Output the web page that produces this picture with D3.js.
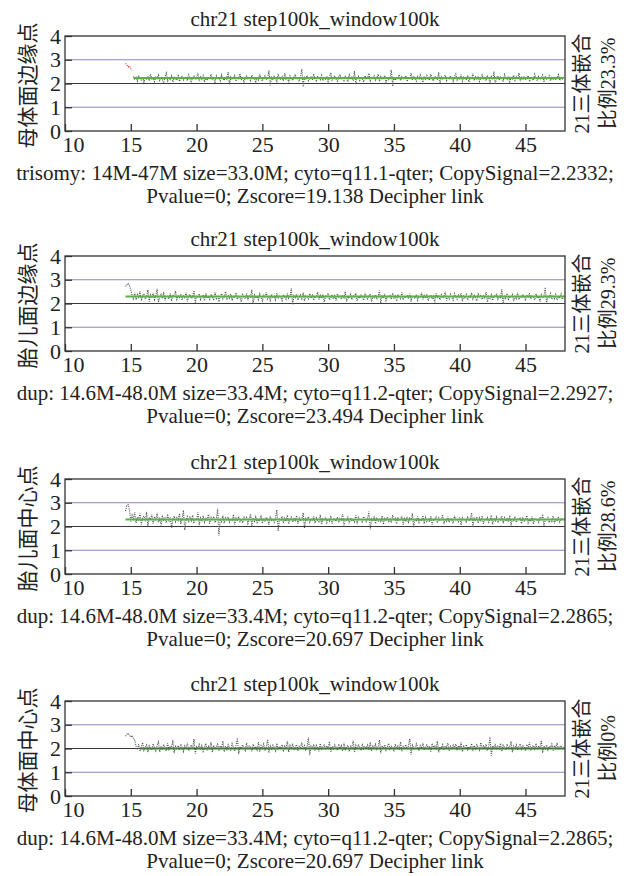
<!DOCTYPE html>
<html>
<head>
<meta charset="utf-8">
<script src="https://cdn.jsdelivr.net/npm/d3@7"></script>
<style>
  body { margin: 0; background: #fff; }
  text { font-family: "Liberation Serif", "Times New Roman", Times, "DejaVu Serif", serif; fill: #222; }
  .cjk { font-family: "Liberation Serif", "Times New Roman", "Noto Sans CJK SC", serif; }
</style>
</head>
<body>
<div id="wrapper"></div>
<script>
// chart values
const xTicks = [10, 15, 20, 25, 30, 35, 40, 45];
const yTicks = [0, 1, 2, 3, 4];
const refLines = [1, 2, 3];
const binStep = 0.1;

const titles = ["chr21 step100k_window100k", "chr21 step100k_window100k", "chr21 step100k_window100k", "chr21 step100k_window100k"];
const yLabels = ["母体面边缘点", "胎儿面边缘点", "胎儿面中心点", "母体面中心点"];
const rightLabel1 = ["21三体嵌合", "21三体嵌合", "21三体嵌合", "21三体嵌合"];
const rightLabel2 = ["比例23.3%", "比例29.3%", "比例28.6%", "比例0%"];
const captions1 = [
  "trisomy: 14M-47M size=33.0M; cyto=q11.1-qter; CopySignal=2.2332;",
  "dup: 14.6M-48.0M size=33.4M; cyto=q11.2-qter; CopySignal=2.2927;",
  "dup: 14.6M-48.0M size=33.4M; cyto=q11.2-qter; CopySignal=2.2865;",
  "dup: 14.6M-48.0M size=33.4M; cyto=q11.2-qter; CopySignal=2.2865;"
];
const captions2 = [
  "Pvalue=0; Zscore=19.138 Decipher link",
  "Pvalue=0; Zscore=23.494 Decipher link",
  "Pvalue=0; Zscore=20.697 Decipher link",
  "Pvalue=0; Zscore=20.697 Decipher link"
];

// segment calls: [start, end, level]
const segments = [[15.2, 47.9, 2.23], [14.6, 48.0, 2.29], [14.6, 48.0, 2.29], [15.7, 48.0, 2.0]];

// panel 1: red head from 14.6, grey bins from 15.2
const redStart = 14.6;
const redHead = [2.85, 2.78, 2.70, 2.74, 2.62, 2.55];
const dataStarts = [15.2, 14.6, 14.6, 14.6];

const copyP1 = [
  2.30,2.18,2.26,2.10,2.34,2.21,2.15,2.28,2.05,2.24,2.19,2.31,2.12,2.40,2.16,2.22,2.08,2.27,2.20,2.35,
  2.13,2.25,2.18,2.02,2.29,2.44,2.11,2.23,2.17,2.32,2.06,2.26,2.20,2.14,2.38,2.09,2.24,2.30,2.15,2.21,
  2.27,2.12,2.36,2.19,2.04,2.25,2.31,2.16,2.22,2.45,2.10,2.28,2.18,2.33,2.07,2.23,2.14,2.29,2.20,2.39,
  2.15,2.26,2.01,2.32,2.18,2.24,2.11,2.37,2.21,2.13,2.30,2.19,2.48,1.96,2.27,2.16,2.22,2.34,2.09,2.25,
  2.20,2.42,2.14,2.28,2.06,2.23,2.31,2.17,2.26,2.12,2.35,2.19,2.24,2.03,2.29,2.15,2.40,2.21,2.10,2.27,
  2.33,2.18,2.22,2.55,1.92,2.26,2.14,2.30,2.20,2.08,2.36,2.23,2.16,2.28,2.11,2.43,2.19,2.25,2.05,2.32,
  2.21,2.13,2.27,2.38,2.17,2.24,2.09,2.30,2.62,1.85,2.26,2.19,2.34,2.12,2.22,2.28,2.15,2.41,2.20,2.07,
  2.29,2.23,2.16,2.35,2.11,2.25,2.18,2.31,2.04,2.27,2.46,2.14,2.21,2.33,2.19,2.10,2.26,2.38,2.17,2.24,
  2.12,2.30,2.22,2.08,2.36,2.19,2.27,2.15,2.52,1.98,2.23,2.31,2.13,2.28,2.20,2.06,2.34,2.17,2.25,2.43,
  2.11,2.26,2.19,2.32,2.14,2.22,2.40,2.09,2.29,2.18,2.24,2.35,2.03,2.27,2.16,2.21,2.58,1.90,2.30,2.13,
  2.25,2.20,2.37,2.12,2.28,2.17,2.23,2.33,2.08,2.26,2.19,2.44,2.14,2.31,2.22,2.10,2.29,2.16,2.36,2.21,
  2.05,2.27,2.18,2.34,2.24,2.13,2.39,2.20,2.11,2.30,2.25,2.15,2.47,2.02,2.28,2.19,2.23,2.35,2.12,2.26,
  2.17,2.32,2.21,2.08,2.29,2.40,2.14,2.24,2.18,2.37,2.10,2.27,2.22,2.15,2.33,2.06,2.25,2.20,2.42,2.13,
  2.28,2.19,2.31,2.09,2.23,2.36,2.16,2.26,2.12,2.34,2.21,2.04,2.29,2.18,2.50,1.97,2.24,2.32,2.14,2.27,
  2.20,2.11,2.38,2.23,2.17,2.30,2.07,2.25,2.19,2.35,2.13,2.28,2.22,2.45,2.10,2.26,2.18,2.31,2.15,2.24,
  2.33,2.08,2.27,2.20,2.14,2.39,2.21,2.12,2.29,2.17,2.24,2.36,2.05,2.28,2.19,2.23,2.32,2.11,2.26,2.18,
  2.30,2.15,2.22,2.37,2.13,2.25,2.19,2.28
];
const copyP2 = [
  2.72,2.80,2.85,2.76,2.58,2.35,2.20,2.46,2.15,2.38,2.27,2.52,2.12,2.33,2.41,2.18,2.30,2.57,2.08,2.36,
  2.24,2.45,2.16,2.31,2.62,2.05,2.28,2.39,2.21,2.48,2.13,2.34,2.26,2.19,2.43,2.10,2.37,2.29,2.52,2.17,
  2.32,2.25,2.40,2.14,2.35,2.22,2.46,2.09,2.30,2.38,2.20,2.27,2.55,2.03,2.33,2.24,2.41,2.16,2.29,2.36,
  2.11,2.44,2.23,2.31,2.18,2.39,2.26,2.13,2.47,2.21,2.34,2.07,2.30,2.42,2.19,2.28,2.50,2.15,2.35,2.22,
  2.40,2.12,2.31,2.26,2.45,2.17,2.33,2.24,2.06,2.38,2.29,2.20,2.43,2.14,2.32,2.27,2.58,1.98,2.36,2.23,
  2.30,2.16,2.41,2.25,2.11,2.35,2.28,2.47,2.19,2.32,2.08,2.39,2.24,2.30,2.15,2.44,2.21,2.34,2.26,2.12,
  2.37,2.29,2.18,2.43,2.22,2.31,2.65,1.95,2.33,2.25,2.40,2.14,2.28,2.36,2.20,2.46,2.10,2.32,2.27,2.19,
  2.42,2.23,2.35,2.13,2.30,2.26,2.48,2.17,2.34,2.21,2.39,2.06,2.31,2.28,2.44,2.15,2.25,2.37,2.20,2.33,
  2.12,2.41,2.27,2.32,2.18,2.36,2.24,2.50,2.09,2.29,2.22,2.38,2.16,2.34,2.26,2.43,2.11,2.30,2.21,2.35,
  2.25,2.14,2.45,2.28,2.19,2.33,2.40,2.07,2.31,2.24,2.37,2.17,2.29,2.55,2.02,2.34,2.22,2.41,2.13,2.30,
  2.27,2.36,2.18,2.44,2.23,2.32,2.10,2.39,2.26,2.20,2.47,2.15,2.31,2.24,2.35,2.19,2.42,2.08,2.33,2.28,
  2.21,2.38,2.14,2.30,2.25,2.46,2.17,2.34,2.22,2.40,2.11,2.29,2.36,2.19,2.31,2.05,2.43,2.26,2.32,2.16,
  2.37,2.23,2.28,2.50,2.12,2.33,2.20,2.39,2.25,2.14,2.42,2.29,2.18,2.35,2.27,2.44,2.09,2.31,2.22,2.38,
  2.15,2.30,2.26,2.45,2.19,2.34,2.23,2.11,2.40,2.28,2.36,2.17,2.32,2.24,2.48,2.06,2.29,2.21,2.37,2.13,
  2.33,2.27,2.41,2.18,2.30,2.25,2.60,1.98,2.35,2.22,2.43,2.14,2.31,2.26,2.38,2.10,2.29,2.20,2.46,2.16,
  2.34,2.23,2.39,2.28,2.12,2.36,2.25,2.44,2.19,2.32,2.27,2.15,2.41,2.22,2.30,2.08,2.37,2.24,2.33,2.68,
  2.00,2.31,2.26,2.42,2.18,2.35,2.21,2.38,2.14,2.29,2.25,2.40,2.17,2.32
];
const copyP3 = [
  2.65,2.88,2.92,2.70,2.20,2.48,2.32,2.60,2.15,2.40,2.28,2.55,2.08,2.35,2.45,2.22,2.62,2.02,2.38,2.30,
  2.50,2.12,2.42,2.25,2.58,2.18,2.33,2.05,2.47,2.27,2.36,2.15,2.52,2.21,2.40,1.95,2.31,2.44,2.20,2.37,
  2.26,2.55,2.10,2.35,2.68,1.85,2.30,2.42,2.17,2.39,2.24,2.48,2.13,2.33,2.28,2.60,2.06,2.36,2.22,2.45,
  2.19,2.34,2.27,2.51,2.11,2.38,2.25,2.43,2.16,2.30,2.75,1.62,2.32,2.21,2.46,2.14,2.37,2.28,2.40,2.18,
  2.33,2.24,2.50,2.09,2.35,2.27,2.42,2.20,2.31,2.15,2.44,2.26,2.38,2.12,2.29,2.53,2.03,2.36,2.22,2.41,
  2.17,2.30,2.25,2.47,2.13,2.34,2.21,2.39,2.28,2.08,2.45,2.24,2.32,2.18,2.37,2.70,1.80,2.31,2.26,2.43,
  2.15,2.35,2.22,2.48,2.10,2.29,2.40,2.19,2.33,2.25,2.46,2.12,2.36,2.23,2.30,2.58,1.92,2.34,2.27,2.41,
  2.18,2.31,2.24,2.44,2.14,2.37,2.26,2.20,2.49,2.09,2.33,2.28,2.39,2.16,2.32,2.23,2.45,2.11,2.35,2.29,
  2.21,2.40,2.17,2.34,2.27,2.52,2.05,2.30,2.24,2.43,2.13,2.36,2.22,2.31,2.19,2.47,2.10,2.38,2.26,2.33,
  2.15,2.42,2.28,2.20,2.35,2.63,1.88,2.32,2.25,2.44,2.12,2.37,2.23,2.30,2.18,2.46,2.09,2.34,2.27,2.40,
  2.21,2.31,2.16,2.48,2.26,2.35,2.11,2.39,2.24,2.29,2.45,2.07,2.33,2.20,2.41,2.14,2.36,2.28,2.55,1.96,
  2.32,2.23,2.43,2.17,2.30,2.26,2.47,2.12,2.38,2.21,2.34,2.19,2.44,2.08,2.31,2.27,2.40,2.15,2.36,2.24,
  2.29,2.50,2.10,2.33,2.22,2.42,2.18,2.35,2.26,2.13,2.46,2.28,2.31,2.20,2.39,2.06,2.37,2.25,2.32,2.16,
  2.43,2.23,2.30,2.58,1.98,2.34,2.27,2.41,2.14,2.36,2.21,2.45,2.11,2.32,2.26,2.38,2.18,2.29,2.48,2.09,
  2.35,2.24,2.40,2.16,2.31,2.27,2.44,2.13,2.37,2.22,2.33,2.19,2.47,2.05,2.30,2.25,2.42,2.17,2.34,2.28,
  2.39,2.12,2.36,2.23,2.31,2.46,2.15,2.29,2.21,2.43,2.10,2.35,2.26,2.32,2.18,2.40,2.24,2.52,2.02,2.30,
  2.27,2.38,2.16,2.34,2.22,2.45,2.13,2.31,2.25,2.41,2.19,2.33,2.28,2.36
];
const copyP4 = [
  2.52,2.60,2.64,2.56,2.48,2.55,2.42,2.35,2.10,1.95,2.18,1.88,2.08,2.25,1.92,2.05,2.15,1.85,2.12,2.00,
  1.94,2.20,2.03,1.90,2.14,2.28,1.86,2.07,1.98,2.16,2.02,1.89,2.22,1.96,2.10,2.04,2.35,1.80,2.09,2.01,
  2.13,1.93,2.19,2.05,1.87,2.11,1.99,2.24,1.91,2.06,2.15,1.97,2.40,1.78,2.08,2.02,2.17,1.95,2.12,1.88,
  2.04,2.21,1.92,2.09,2.00,2.26,1.84,2.14,1.98,2.07,2.18,1.90,2.11,2.03,2.32,1.86,2.10,1.96,2.16,2.01,
  1.93,2.20,2.05,1.89,2.13,2.44,1.76,2.08,1.99,2.15,2.03,1.91,2.23,1.97,2.11,2.06,1.88,2.18,2.00,2.09,
  1.94,2.27,1.87,2.12,2.02,2.19,1.95,2.07,2.38,1.82,2.10,1.98,2.14,2.04,1.90,2.22,1.96,2.08,2.01,2.16,
  1.92,2.11,2.05,2.30,1.85,2.13,1.99,2.20,1.93,2.06,2.17,1.89,2.09,2.03,2.25,1.97,2.12,1.94,2.08,2.46,
  1.72,2.10,2.00,2.18,1.91,2.14,2.04,1.88,2.21,1.98,2.07,2.15,1.95,2.11,2.02,2.29,1.86,2.09,1.99,2.16,
  2.05,1.93,2.19,2.01,2.12,1.90,2.24,1.96,2.08,2.14,1.87,2.10,2.03,2.33,1.83,2.13,1.98,2.17,2.06,1.92,
  2.20,1.99,2.09,2.02,2.15,1.94,2.26,1.89,2.11,2.04,2.18,1.96,2.07,2.36,1.80,2.12,2.00,2.16,1.93,2.08,
  2.22,1.97,2.10,2.05,1.91,2.19,2.01,2.13,1.95,2.28,1.88,2.09,2.03,2.17,1.98,2.11,2.42,1.75,2.14,2.02,
  1.96,2.20,2.06,1.90,2.12,2.00,2.24,1.93,2.08,2.15,1.99,2.10,1.87,2.21,2.04,2.13,1.95,2.31,1.84,2.07,
  2.01,2.16,1.94,2.11,2.05,2.23,1.90,2.09,1.98,2.14,2.03,2.19,1.92,2.12,2.00,2.27,1.86,2.10,2.04,2.17,
  1.95,2.08,2.02,2.21,1.89,2.13,1.99,2.16,2.06,1.93,2.25,1.97,2.11,2.01,2.18,1.91,2.09,2.48,1.70,2.12,
  2.03,2.15,1.96,2.10,2.00,2.22,1.88,2.14,2.05,1.94,2.19,1.99,2.07,2.30,1.85,2.11,2.02,2.16,1.93,2.09,
  2.20,1.97,2.12,2.04,1.90,2.17,2.01,2.26,1.92,2.08,2.13,1.98,2.21,1.95,2.10,2.03,2.34,1.82,2.11,2.00,
  2.15,1.94,2.09,2.05,2.19,1.91,2.13,2.02,2.24,1.96,2.08,2.12,1.99,2.06
];
const copySeries = [copyP1, copyP2, copyP3, copyP4];

// layout
const width = 626;
const height = 876;
const plotLeft = 65;
const plotRight = 565;
const plotTops = [36, 256, 479, 701];
const plotHeight = 95;
const serif = "'Liberation Serif', 'Times New Roman', Times, 'DejaVu Serif', serif";

const svg = d3.select("#wrapper").append("svg")
  .attr("width", width)
  .attr("height", height);

const xScale = d3.scaleLinear().domain([10, 48]).range([plotLeft, plotRight]);

plotTops.forEach((top, p) => {
  const yScale = d3.scaleLinear().domain([0, 4]).range([top + plotHeight, top]);
  const g = svg.append("g");

  // reference lines
  g.selectAll(".ref")
    .data(refLines)
    .join("line")
    .attr("x1", plotLeft).attr("x2", plotRight)
    .attr("y1", d => yScale(d)).attr("y2", d => yScale(d))
    .attr("stroke", d => d === 2 ? "#3a3a3a" : "#9582bd")
    .attr("stroke-width", 1.2);

  // bins, dotted
  const line = d3.line().x(d => xScale(d[0])).y(d => yScale(d[1]));
  const pts = copySeries[p].map((v, i) => [dataStarts[p] + i * binStep, v]);
  g.append("path")
    .attr("d", line(pts))
    .attr("fill", "none")
    .attr("stroke", "#555")
    .attr("stroke-width", 1.1)
    .attr("stroke-dasharray", "1.1,1.1");

  if (p === 0) {
    const redPts = redHead.map((v, i) => [redStart + i * binStep, v]);
    g.append("path")
      .attr("d", line(redPts))
      .attr("fill", "none")
      .attr("stroke", "#e03030")
      .attr("stroke-width", 1.1)
      .attr("stroke-dasharray", "1.1,1.1");
  }

  // segment call
  const seg = segments[p];
  g.append("line")
    .attr("x1", xScale(seg[0])).attr("x2", xScale(seg[1]))
    .attr("y1", yScale(seg[2])).attr("y2", yScale(seg[2]))
    .attr("stroke", p === 3 ? "#3f7a3a" : "#5cb048")
    .attr("stroke-width", 2);

  // frame
  g.append("rect")
    .attr("x", plotLeft).attr("y", top)
    .attr("width", plotRight - plotLeft).attr("height", plotHeight)
    .attr("fill", "none")
    .attr("stroke", "#333")
    .attr("stroke-width", 1.3);

  // axes
  const xAxis = g.append("g")
    .attr("transform", `translate(0,${top + plotHeight})`)
    .call(d3.axisBottom(xScale).tickValues(xTicks).tickSize(-7).tickPadding(5).tickFormat(d3.format("d")));
  xAxis.select(".domain").remove();
  xAxis.selectAll(".tick line").attr("stroke", "#333").attr("stroke-width", 1.3);
  xAxis.selectAll(".tick text")
    .style("font-family", serif)
    .style("font-size", "22px")
    .attr("dx", d => d === 10 ? 8 : 0);

  const yAxis = g.append("g")
    .attr("transform", `translate(${plotLeft},0)`)
    .call(d3.axisLeft(yScale).tickValues(yTicks).tickSize(-7).tickPadding(4).tickFormat(d3.format("d")));
  yAxis.select(".domain").remove();
  yAxis.selectAll(".tick line").attr("stroke", "#333").attr("stroke-width", 1.3);
  yAxis.selectAll(".tick text")
    .style("font-family", serif)
    .style("font-size", "22px");

  // title
  g.append("text")
    .attr("x", (plotLeft + plotRight) / 2)
    .attr("y", top - 10)
    .attr("text-anchor", "middle")
    .style("font-size", "21px")
    .text(titles[p]);

  const midY = top + plotHeight / 2;

  // y label
  g.append("text")
    .attr("class", "cjk")
    .attr("transform", `translate(35,${midY + 2}) rotate(-90)`)
    .attr("text-anchor", "middle")
    .style("font-size", "21px")
    .text(yLabels[p]);

  // right labels
  g.append("text")
    .attr("class", "cjk")
    .attr("transform", `translate(589,${midY}) rotate(-90)`)
    .attr("text-anchor", "middle")
    .style("font-size", "20px")
    .text(rightLabel1[p]);
  g.append("text")
    .attr("class", "cjk")
    .attr("transform", `translate(615,${midY}) rotate(-90)`)
    .attr("text-anchor", "middle")
    .style("font-size", "20px")
    .text(rightLabel2[p]);

  // captions
  g.append("text")
    .attr("x", 315)
    .attr("y", top + plotHeight + 49)
    .attr("text-anchor", "middle")
    .style("font-size", "21px")
    .text(captions1[p]);
  g.append("text")
    .attr("x", 315)
    .attr("y", top + plotHeight + 72)
    .attr("text-anchor", "middle")
    .style("font-size", "21px")
    .text(captions2[p]);
});
</script>
</body>
</html>
